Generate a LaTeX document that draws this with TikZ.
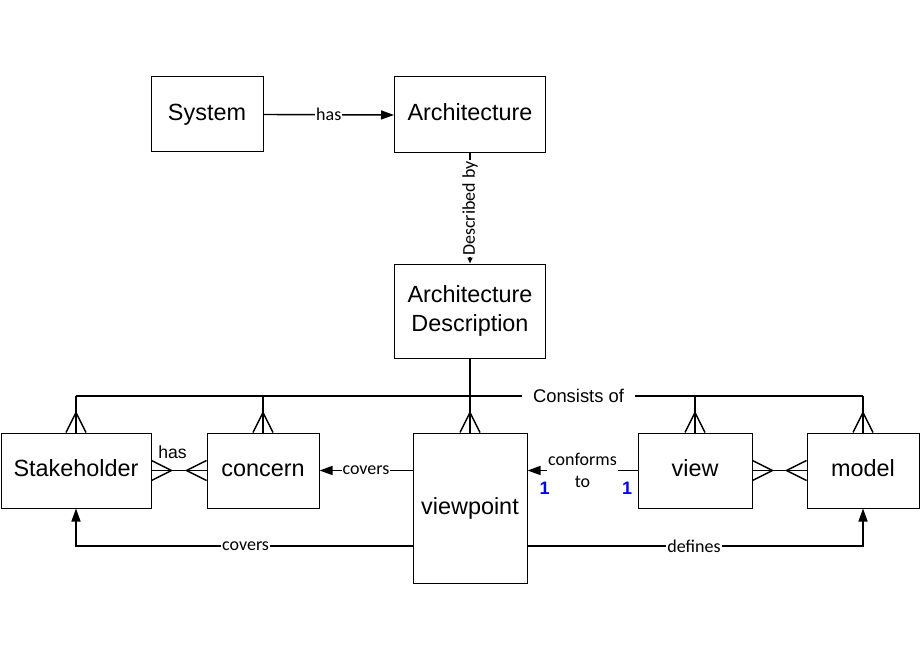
\documentclass[tikz,border=0pt]{standalone}
\usepackage{fontspec}
\setmainfont{Liberation Sans}
\newfontfamily\calfont{Carlito}
\usetikzlibrary{arrows.meta}
\tikzset{
  ent/.style={draw, line width=1pt, inner sep=0pt, font=\fontsize{23.4}{29}\selectfont, align=center},
  ent1/.style={ent, text height=17pt, text depth=5pt},
  con/.style={line width=1.4pt},
  arr/.style={con, -{Triangle[length=13pt,width=9pt]}},
  sarr/.style={con, -{Triangle[length=6pt,width=5pt]}},
  lbl/.style={font=\calfont\fontsize{18}{20}\selectfont, fill=white, inner sep=1pt},
  one/.style={font=\bfseries\fontsize{18}{20}\selectfont, text=blue, inner sep=0pt}
}
\begin{document}
\begin{tikzpicture}[x=1pt,y=-1pt]
\useasboundingbox (0,0) rectangle (920,660);
\node[ent1, minimum width=112pt, minimum height=75pt] (System) at (207,114.5) {System};
\node[ent1, minimum width=151pt, minimum height=76pt] (Architecture) at (470,115) {Architecture};
\node[ent, minimum width=151pt, minimum height=94pt] (AD) at (470,311) {Architecture\\Description};
\node[ent1, minimum width=150pt, minimum height=75pt] (Stakeholder) at (76,470.5) {Stakeholder};
\node[ent1, minimum width=112pt, minimum height=75pt] (concern) at (263,470.5) {concern};
\node[ent1, minimum width=114pt, minimum height=150pt] (viewpoint) at (470,508) {viewpoint};
\node[ent1, minimum width=114pt, minimum height=75pt] (view) at (695,470.5) {view};
\node[ent1, minimum width=112pt, minimum height=75pt] (model) at (863,470.5) {model};

% has
\draw[arr] (System.east) -- (Architecture.west) node[lbl, midway] {has};
% described by
\draw[sarr] (Architecture.south) -- (AD.north) node[lbl, midway, rotate=90] {Described by};

% consists of bus
\coordinate (bus) at (0,396);
\draw[con] (AD.south) -- (viewpoint.north);
\draw[con] (Stakeholder.north |- bus) -- (model.north |- bus);
\node[font=\fontsize{18.4}{20}\selectfont, fill=white, inner xsep=11pt, inner ysep=2pt] (cons) at (578.5,396) {Consists of};
\foreach \X in {Stakeholder,concern,viewpoint,view,model}{
  \draw[con] (\X.north |- bus) -- (\X.north);
  \draw[con] ([xshift=-10pt]\X.north) -- ([yshift=20pt]\X.north) -- ([xshift=10pt]\X.north);
}

% Stakeholder - concern (has)
\draw[con] (Stakeholder.east) -- (concern.west);
\draw[con] ([yshift=10pt]Stakeholder.east) -- ([xshift=20pt]Stakeholder.east) -- ([yshift=-10pt]Stakeholder.east);
\draw[con] ([yshift=10pt]concern.west) -- ([xshift=-20pt]concern.west) -- ([yshift=-10pt]concern.west);
\node[font=\fontsize{17.6}{20}\selectfont, inner sep=0pt] (hasSC) at (172.5,452) {has};

% view - model
\draw[con] (view.east) -- (model.west);
\draw[con] ([yshift=10pt]view.east) -- ([xshift=20pt]view.east) -- ([yshift=-10pt]view.east);
\draw[con] ([yshift=10pt]model.west) -- ([xshift=-20pt]model.west) -- ([yshift=-10pt]model.west);

% covers (viewpoint -> concern)
\draw[arr] (viewpoint.west |- concern.east) -- (concern.east) node[lbl, midway] {covers};

% conforms to
\draw[arr] (view.west) -- (viewpoint.east |- view.west)
  node[midway, font=\calfont\fontsize{18}{22}\selectfont, fill=white, align=center, inner xsep=1pt, inner ysep=2pt] (conf) {conforms\\to};
\node[one] (oneL) at (544.5,488) {1};
\node[one] (oneR) at (627,488) {1};

% bottom covers / defines
\coordinate (low) at (0,546);
\draw[arr] (viewpoint.west |- low) -| (Stakeholder.south) node[lbl, pos=0.248] {covers};
\draw[arr] (viewpoint.east |- low) -| (model.south) node[lbl, pos=0.248] {defines};
\end{tikzpicture}
\end{document}
